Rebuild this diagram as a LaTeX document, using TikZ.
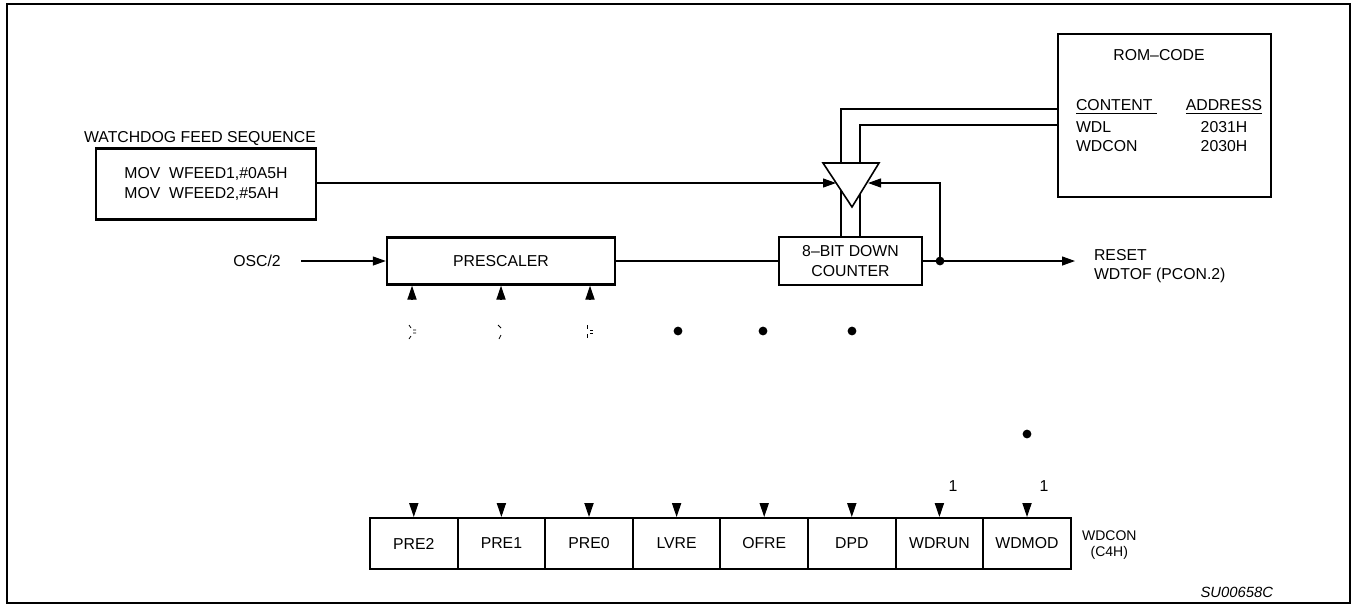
\documentclass[tikz,border=0pt]{standalone}
\usepackage{fontspec}
\setmainfont{Liberation Sans}
\usetikzlibrary{positioning}
\usetikzlibrary{arrows.meta}
\tikzset{
	every node/.style = {font=\fontsize{7.9}{9.6}\selectfont},
	blk/.style = {draw, line width=1.2pt, inner sep=0pt},
	cell/.style = {draw, line width=1pt, inner sep=0pt, minimum width=43.8pt, minimum height=25.5pt},
	wire/.style = {line width=0.6pt},
	arr/.style = {wire, -{Triangle[length=6.5pt,width=4.5pt]}},
	tap/.style = {wire, -{Triangle[length=7pt,width=4.6pt]}},
	dot/.style = {circle, fill, inner sep=0pt, minimum size=4.4pt}
}

\begin{document}
\begin{tikzpicture}[x=0.5pt,y=-0.5pt]
		\useasboundingbox (0,0) rectangle (1353,606);
		\draw[line width=1pt] (7,4) rectangle (1350,603);

		% feed sequence
		\node[anchor=west] (feedttl) at (77,138) {WATCHDOG FEED SEQUENCE};
		\node[blk, minimum width=110pt, minimum height=35.5pt, align=left] (feed) at (206,184)
			{MOV\ \ WFEED1,\#0A5H\\MOV\ \ WFEED2,\#5AH};

		% rom code
		\node[blk, minimum width=106.5pt, minimum height=81.5pt] (rom) at (1164.5,115.5) {};
		\node (romttl) at (1159,55) {ROM--CODE};
		\node[anchor=west] (cont) at (1069,107) {\underline{CONTENT\ }};
		\node[anchor=west] (wdl) at (1069,127) {WDL};
		\node[anchor=west] (wdc) at (1069,146) {WDCON};
		\node (addr) at (1224,107) {\underline{ADDRESS}};
		\node (a1) at (1224,127) {2031H};
		\node (a2) at (1224,146) {2030H};

		% comparator
		\coordinate (tl) at (823,163);
		\coordinate (tr) at (879,163);
		\coordinate (tip) at (852,207);
		\coordinate (inL) at (836,183);
		\coordinate (inR) at (868,183);
		\draw[line width=0.8pt] (tl) -- (tr) -- (tip) -- cycle;

		% prescaler and counter
		\node (osc) at (257,261) {OSC/2};
		\coordinate (oscend) at (301,261);
		\node[blk, minimum width=114pt, minimum height=23.5pt] (presc) at (501,261) {PRESCALER};
		\node[blk, minimum width=71.5pt, minimum height=24pt, align=center] (counter) at (850.5,261)
			{8--BIT DOWN\\COUNTER};
		\coordinate (jn) at (940,261);
		\coordinate (rst) at (1075,261);
		\node[anchor=west, align=left] (reset) at (1087,266) {RESET\\WDTOF (PCON.2)};

		\draw[arr] (oscend) -- (presc.west);
		\draw[wire] (presc.east) -- (counter.west);
		\draw[wire] (counter.east) -- (jn);
		\draw[arr] (jn) -- (rst);
		\draw[arr] (jn) |- (inR);
		\draw[arr] (feed.east |- inL) -- (inL);
		\draw[wire] (rom.west |- 0,109) -| (841,163);
		\draw[wire] (rom.west |- 0,125) -| (860,163);
		\draw[wire] (841,190) -- (counter.north -| 841,0);
		\draw[wire] (860,194) -- (counter.north -| 860,0);
		\node[dot] (jdot) at (jn) {};

		% prescaler taps
		\foreach \d in {-44.5, 0, 44.5}
			\draw[tap] ([xshift=\d pt, yshift=-7pt]presc.south) -- ([xshift=\d pt]presc.south);
		% broken marks
		\draw[line width=0.4pt] (409,325) -- (411,328) (413,330) -- (416,330) (413,333) -- (416,333) (411,336) -- (409,339);
		\draw[line width=0.4pt] (498,325) -- (501,328) (501,335) -- (499,339);
		\draw[line width=0.4pt] (587,325) -- (587,329) (590,330) -- (593,330) (590,333) -- (593,333) (587,334) -- (587,338);
		\foreach \x in {678, 763, 852}
			\node[dot] (d\x) at (\x,331) {};
		\node[dot] (dmod) at (1027,434) {};

		% wdcon register
		\foreach \n [count=\i from 0] in {PRE2,PRE1,PRE0,LVRE,OFRE,DPD,WDRUN,WDMOD}
			\node[cell] (b\i) at ({413.8+87.6*\i},543.5) {\n};
		\foreach \i in {0,...,7}
			\draw[tap] ([yshift=6.5pt]b\i.north) -- (b\i.north);
		\node (one6) at (953,486) {1};
		\node (one7) at (1044,486) {1};
		\node[anchor=west, align=center, font=\fontsize{7}{7.6}\selectfont] (reg) at (1075,545) {WDCON\\(C4H)};

		\node[anchor=east, font=\fontsize{7.4}{9}\selectfont\itshape] (fig) at (1280,592) {SU00658C};
	\end{tikzpicture}
\end{document}
